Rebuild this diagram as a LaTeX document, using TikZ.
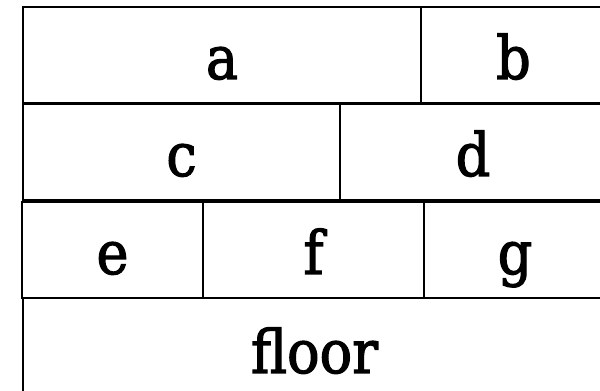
\documentclass[tikz,border=0pt]{standalone}
\usepackage{fontspec}
\newfontfamily\blockfont{DejaVu Serif Condensed}[FakeBold=2]
\begin{document}
\begin{tikzpicture}[x=0.75pt,y=0.75pt,
    block/.style={draw, line width=1.5pt, inner sep=0pt, outer sep=0pt,
      minimum height=72pt, anchor=north west,
      font=\blockfont\fontsize{45}{54}\selectfont,
      text height=40.5pt, text depth=4.5pt}]
  \clip (0,0) rectangle (600,391);
  % name / left / right / top
  \foreach \name/\xa/\xb/\yt in {a/23/421/384, b/421/606/384,
      c/23/340/287, d/340/606/287,
      e/22/203/189, f/203/424/189, g/424/606/189} {
    \pgfmathsetmacro\w{(\xb-\xa)*0.75}
    \node[block, minimum width=\w pt] (\name) at (\xa,\yt) {\name};
  }
  \node[block, minimum width=437.25pt, minimum height=76.5pt] (floor) at (23,93) {floor};
\end{tikzpicture}
\end{document}
